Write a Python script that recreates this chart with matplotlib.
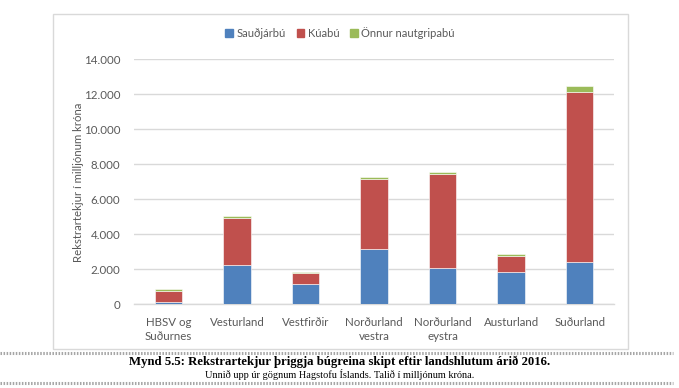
import matplotlib
matplotlib.use("Agg")
import matplotlib.pyplot as plt
import numpy as np
from matplotlib.patches import Rectangle
from matplotlib.lines import Line2D
from matplotlib.ticker import FuncFormatter

categories = ["HBSV og\nSuðurnes", "Vesturland", "Vestfirðir", "Norðurland\nvestra",
              "Norðurland\neystra", "Austurland", "Suðurland"]
saudfjarbu = [120, 2220, 1170, 3160, 2070, 1860, 2400]
kuabu = [650, 2740, 630, 3990, 5360, 920, 9720]
onnur = [80, 100, 60, 150, 150, 110, 370]
series_names = ["Sauðjárbú", "Kúabú", "Önnur nautgripabú"]
colors = ["#4F81BD", "#C0504D", "#9BBB59"]
yticks = [0, 2000, 4000, 6000, 8000, 10000, 12000, 14000]
ylabel = "Rekstrartekjur í milljónum króna"
title = "Mynd 5.5: Rekstrartekjur þriggja búgreina skipt eftir landshlutum árið 2016."
subtitle = "Unnið upp úr gögnum Hagstofu Íslands. Talið í milljónum króna."

W, H = 679, 388
fig = plt.figure(figsize=(W / 100, H / 100), dpi=100)
fig.patch.set_facecolor("white")

def fx(px):
    return px / W

def fy(py):
    return 1 - py / H

# chart frame
fig.patches.append(Rectangle((fx(53), fy(349)), fx(628) - fx(53), fy(14) - fy(349),
                             transform=fig.transFigure, fill=False,
                             edgecolor="#D9D9D9", linewidth=1.0))

ax = fig.add_axes([fx(134), fy(304.3), fx(614) - fx(134), fy(59.3) - fy(304.3)])
x = np.arange(len(categories))
bw = 0.4
data = [saudfjarbu, kuabu, onnur]
bottom = np.zeros(len(categories))
for vals, col, name in zip(data, colors, series_names):
    ax.bar(x, vals, bw, bottom=bottom, color=col, edgecolor="#FFFFFF",
           linewidth=0.4, label=name, zorder=3)
    bottom += np.array(vals)

ax.set_xlim(-0.5, len(categories) - 0.5)
ax.set_ylim(0, 14000)
ax.set_yticks(yticks)
ax.yaxis.set_major_formatter(FuncFormatter(lambda v, p: f"{int(v):,}".replace(",", ".")))
ax.grid(axis="y", color="#D9D9D9", linewidth=1.0, zorder=0)
for s in ["top", "right", "left"]:
    ax.spines[s].set_visible(False)
ax.spines["bottom"].set_color("#D9D9D9")
ax.spines["bottom"].set_linewidth(1.0)
ax.tick_params(axis="both", length=0, labelsize=8.3, colors="#595959")
ax.tick_params(axis="y", pad=10)
ax.tick_params(axis="x", pad=9)
ax.set_xticks(x)
ax.set_xticklabels(categories, fontfamily="Lato", linespacing=1.3)
for lab in ax.get_yticklabels():
    lab.set_fontfamily("Lato")

fig.text(fx(78), fy(182), ylabel, rotation=90, ha="center", va="center",
         fontsize=8.2, color="#595959", fontfamily="Lato")

handles = [Rectangle((0, 0), 1, 1, color=c) for c in colors]
leg = fig.legend(handles, series_names, loc="center", bbox_to_anchor=(fx(340), fy(33)),
                 ncol=3, frameon=False, fontsize=8, handlelength=0.7, handleheight=0.7,
                 handletextpad=0.3, columnspacing=1.0)
for t in leg.get_texts():
    t.set_color("#595959")
    t.set_fontfamily("Lato")

# dotted separator lines
for yy in [352.5, 383]:
    fig.lines.append(Line2D([0, fx(673)], [fy(yy), fy(yy)], transform=fig.transFigure,
                            color="#A6A6A6", linewidth=2.2, linestyle=(0, (0.5, 0.5))))

fig.text(fx(340), fy(362), title, ha="center", va="center", fontsize=9.2,
         fontweight="bold", fontfamily="Liberation Serif", color="black")
fig.text(fx(340), fy(375), subtitle, ha="center", va="center", fontsize=7.4,
         fontfamily="Liberation Serif", color="black")

fig.savefig("out.png", dpi=100)
